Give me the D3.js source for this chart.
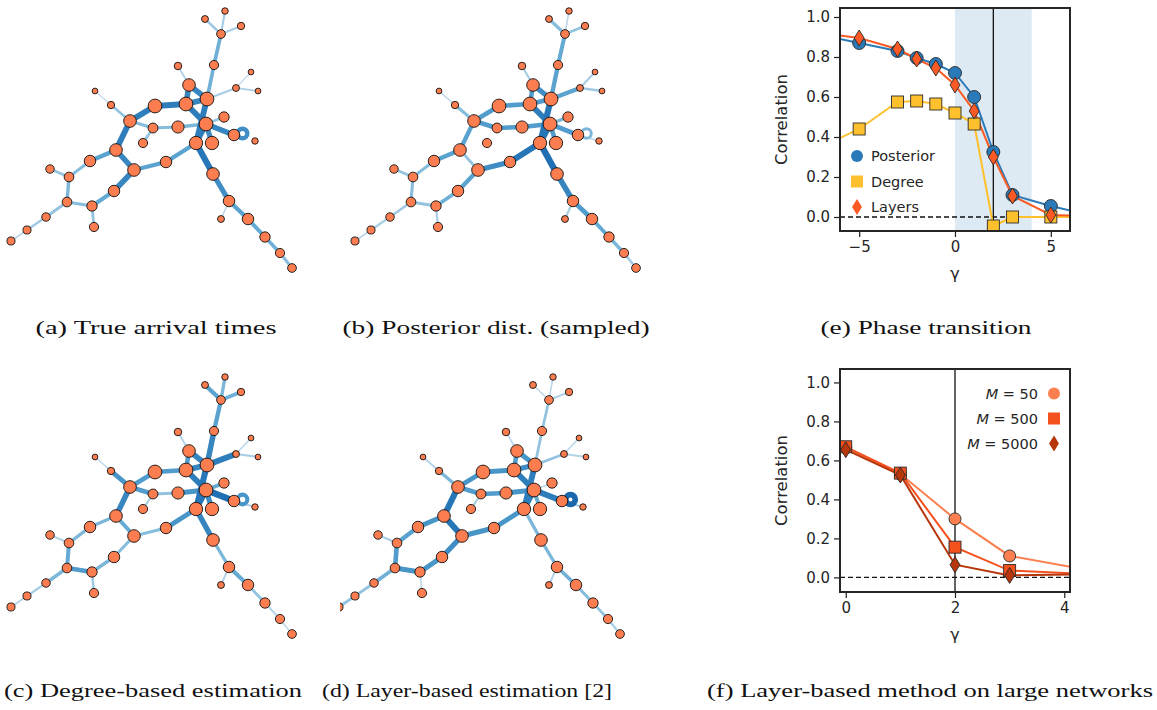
<!DOCTYPE html>
<html>
<head>
<meta charset="utf-8">
<title>Arrival times</title>
<style>
  body { margin: 0; background: #fff; }
  svg { display: block; }
  .tick text { font: 15px "DejaVu Sans", sans-serif; fill: #262626; }
  .tick line { stroke: #262626; stroke-width: 1.25px; }
  .lab { font: 16.5px "DejaVu Sans", sans-serif; fill: #262626; }
  .leg { font: 14.5px "DejaVu Sans", sans-serif; fill: #262626; }
  .caption { font: 18px "Liberation Serif", serif; fill: #111; }
</style>
</head>
<body>
<script src="https://d3js.org/d3.v7.min.js"></script>
<script>
// network layout, same for panels a-d (coords in panel a pixels)
const nodeXY = [[225,11],[205,19],[241,26],[221,34],[214,65],[178,66],[251,72],[236,88],[258,91],[189,85],
  [207,99],[95,91],[111,105],[155,106],[186,104],[224,117],[130,121],[153,128],[178,127],[206,124],
  [234,135],[255,141],[143,143],[196,143],[212,143],[116,150],[90,161],[166,162],[50,169],[69,177],
  [134,170],[213,174],[114,191],[67,202],[92,206],[229,201],[221,219],[248,219],[46,217],[94,227],
  [265,237],[27,230],[280,253],[11,241],[292,268]];
const nodeR = [2.8,3,3.2,3.8,4,3.3,2.5,3,2.5,5.5,
  6,2.5,3.2,6,6,4.5,5.5,4.3,5.3,6,
  5,2.8,4,5.8,5.8,5.5,5,5,3.7,4.2,
  5.5,5.5,5,4.2,4.5,5,3,5,3.7,4,
  4.5,3.5,4,3.5,3.8];
const edges = [[0,3],[1,3],[2,3],[3,4],[4,10],[10,23],[5,9],[7,10],[6,7],[7,8],
  [9,10],[9,14],[10,14],[13,14],[13,16],[11,12],[12,16],[16,17],[17,18],[18,19],
  [17,22],[15,19],[19,20],[14,19],[19,23],[19,24],[23,27],[27,30],[16,25],[25,26],
  [25,30],[26,29],[30,32],[32,34],[28,29],[29,33],[33,34],[33,38],[34,39],[38,41],
  [41,43],[23,31],[31,35],[35,36],[35,37],[37,40],[40,42],[42,44],[20,21]];
const strengthA = [0.2,0.25,0.2,0.45,0.45,0.8,0.15,0.2,0.05,0.15,
  0.75,0.75,0.75,0.8,0.8,0.05,0.3,0.35,0.35,0.4,
  0.3,0.3,0.75,0.8,0.8,0.7,0.55,0.55,0.8,0.55,
  0.75,0.35,0.75,0.5,0.3,0.4,0.35,0.3,0.3,0.25,
  0.1,0.85,0.7,0.1,0.55,0.5,0.45,0.35,0];
const strengthB = [0.1,0.35,0.3,0.5,0.55,0.85,0.2,0.55,0.2,0.25,
  0.7,0.6,0.6,0.6,0.6,0.1,0.35,0.6,0.6,0.6,
  0,0.4,0.6,0.8,0.85,0.6,0.85,0.7,0.55,0.55,
  0.3,0.35,0.55,0.45,0.3,0.35,0.3,0.25,0.2,0.2,
  0.1,0.9,0.75,0.2,0.6,0.5,0.4,0.25,0.1];
const strengthC = [0.4,0.55,0.45,0.55,0.75,0.85,0.15,0.8,0.1,0.2,
  0.75,0.6,0.75,0.6,0.6,0.1,0.65,0.6,0.3,0.65,
  0.2,0.5,0.9,0.8,0.85,0.7,0.65,0.35,0.75,0.4,
  0.5,0.4,0.35,0.4,0.15,0.5,0.6,0.4,0.25,0.2,
  0.15,0.75,0.4,0.15,0.5,0.3,0.15,0.1,0.15];
const strengthD = [0.1,0.1,0.15,0.3,0.3,0.8,0.1,0.3,0.1,0.15,
  0.65,0.6,0.7,0.65,0.65,0.15,0.4,0.6,0.6,0.65,
  0.2,0.1,0.8,0.8,0.8,0.5,0.65,0.65,0.85,0.65,
  0.85,0.55,0.7,0.65,0.2,0.6,0.65,0.45,0.1,0.3,
  0.3,0.4,0.4,0.15,0.45,0.35,0.3,0.2,0.2];
const loopStrength = [0.7, 0.4, 0.65, 0.95];
const panelOffset = [[0,0],[344,0],[0,366],[328,366]];

// (e) phase transition
const gammaE = [-7,-5,-3,-2,-1,0,1,2,3,5,7];
const posterior = [0.91,0.87,0.83,0.795,0.765,0.72,0.60,0.325,0.11,0.055,0.01];
const degree = [0.35,0.44,0.575,0.58,0.565,0.52,0.465,-0.045,0.0,0.0,0.0];
const layers = [0.92,0.895,0.84,0.79,0.745,0.66,0.53,0.30,0.105,0.01,0.005];

// (f) large networks
const gammaF = [0,1,2,3,5];
const m50 = [0.665,0.53,0.30,0.11,0.01];
const m500 = [0.67,0.535,0.155,0.035,0.01];
const m5000 = [0.655,0.525,0.065,0.01,0.018];

const captionsTop = ["(a) True arrival times","(b) Posterior dist. (sampled)","(e) Phase transition"];
const captionsBottom = ["(c) Degree-based estimation","(d) Layer-based estimation [2]","(f) Layer-based method on large networks"];

const svg = d3.select("body").append("svg").attr("width", 1157).attr("height", 710);
svg.append("rect").attr("width", 1157).attr("height", 710).attr("fill", "#fff");
const defs = svg.append("defs");

const edgeColor = s => d3.interpolateBlues(0.22 + 0.6 * s);
const edgeWidth = s => 1 + 6 * s;
const rScale = 1.15;

function drawNet(k, strengths) {
  const [ox, oy] = panelOffset[k];
  const x = d3.scaleLinear().domain([0, 1]).range([ox, ox + 1]);
  const y = d3.scaleLinear().domain([0, 1]).range([oy, oy + 1]);
  const id = "clipnet" + k;
  defs.append("clipPath").attr("id", id).append("rect")
    .attr("x", ox + (k === 3 ? 12 : 0)).attr("y", oy).attr("width", 310).attr("height", 290);
  const g = svg.append("g").attr("clip-path", `url(#${id})`);
  const es = edges.map((e, i) => ({ a: e[0], b: e[1], s: strengths[i] }))
    .filter(e => e.s > 0).sort((p, q) => p.s - q.s);
  g.selectAll("line").data(es).join("line")
    .attr("x1", d => x(nodeXY[d.a][0])).attr("y1", d => y(nodeXY[d.a][1]))
    .attr("x2", d => x(nodeXY[d.b][0])).attr("y2", d => y(nodeXY[d.b][1]))
    .attr("stroke", d => edgeColor(d.s)).attr("stroke-width", d => edgeWidth(d.s));
  // self loop on node 20
  const ls = loopStrength[k];
  g.append("circle")
    .attr("cx", x(nodeXY[20][0] + 8.5)).attr("cy", y(nodeXY[20][1] - 1.5))
    .attr("r", 4.8).attr("fill", "none")
    .attr("stroke", edgeColor(ls)).attr("stroke-width", edgeWidth(ls) * 0.85);
  g.selectAll("circle.node").data(nodeXY).join("circle").attr("class", "node")
    .attr("cx", d => x(d[0])).attr("cy", d => y(d[1]))
    .attr("r", (d, i) => nodeR[i] * rScale)
    .attr("fill", "#fc7d50").attr("stroke", "#111").attr("stroke-width", 0.9);
}
[strengthA, strengthB, strengthC, strengthD].forEach((s, k) => drawNet(k, s));

function diamondPath(hw, hh) {
  return `M0,${-hh}L${hw},0L0,${hh}L${-hw},0Z`;
}
function marker(sel, type, size) {
  if (type === "circle") return sel.append("circle").attr("r", size);
  if (type === "square") return sel.append("rect").attr("x", -size).attr("y", -size).attr("width", 2 * size).attr("height", 2 * size);
  return sel.append("path").attr("d", diamondPath(size * 0.62, size));
}

function drawPlot(cfg) {
  const { left, right, top, bottom, xDomain, yDomain, xTicks, id } = cfg;
  const x = d3.scaleLinear().domain(xDomain).range([left, right]);
  const y = d3.scaleLinear().domain(yDomain).range([bottom, top]);
  defs.append("clipPath").attr("id", id).append("rect")
    .attr("x", left).attr("y", top).attr("width", right - left).attr("height", bottom - top);
  const g = svg.append("g").attr("clip-path", `url(#${id})`);
  if (cfg.shade) {
    g.append("rect").attr("x", x(cfg.shade[0])).attr("y", top)
      .attr("width", x(cfg.shade[1]) - x(cfg.shade[0])).attr("height", bottom - top)
      .attr("fill", "#dde9f3");
  }
  g.append("line").attr("x1", x(2)).attr("x2", x(2)).attr("y1", top).attr("y2", bottom)
    .attr("stroke", "#111").attr("stroke-width", 1.3);
  g.append("line").attr("x1", left).attr("x2", right).attr("y1", y(0)).attr("y2", y(0))
    .attr("stroke", "#111").attr("stroke-width", 1.3).attr("stroke-dasharray", "5,3");
  const line = d3.line().x(d => x(d[0])).y(d => y(d[1]));
  cfg.series.forEach(s => {
    const pts = cfg.xs.map((v, i) => [v, s.values[i]]);
    g.append("path").datum(pts).attr("d", line).attr("fill", "none")
      .attr("stroke", s.color).attr("stroke-width", 2);
  });
  cfg.series.forEach(s => {
    const pts = cfg.xs.map((v, i) => [v, s.values[i]]);
    pts.forEach(p => {
      const m = g.append("g").attr("transform", `translate(${x(p[0])},${y(p[1])})`);
      marker(m, s.shape, s.size).attr("fill", s.color).attr("stroke", "#2a2a2a").attr("stroke-width", 0.9);
    });
  });
  svg.append("rect").attr("x", left).attr("y", top).attr("width", right - left).attr("height", bottom - top)
    .attr("fill", "none").attr("stroke", "#262626").attr("stroke-width", 2);
  const ax = svg.append("g").attr("transform", `translate(0,${bottom + 1})`)
    .call(d3.axisBottom(x).tickValues(xTicks).tickFormat(d3.format("d")).tickSize(5).tickPadding(4));
  ax.select(".domain").remove();
  const ay = svg.append("g").attr("transform", `translate(${left - 1},0)`)
    .call(d3.axisLeft(y).tickValues([0, 0.2, 0.4, 0.6, 0.8, 1.0]).tickFormat(d3.format(".1f")).tickSize(5).tickPadding(4));
  ay.select(".domain").remove();
  svg.append("text").attr("class", "lab")
    .attr("transform", `translate(${left - 59},${(top + bottom) / 2}) rotate(-90)`)
    .attr("text-anchor", "middle").attr("dominant-baseline", "central").text("Correlation");
  svg.append("text").attr("class", "lab").attr("x", (left + right) / 2).attr("y", bottom + 48)
    .attr("text-anchor", "middle").attr("font-style", "italic").text("γ");
  return { x, y };
}

drawPlot({
  id: "clipE", left: 840, right: 1070, top: 8, bottom: 231,
  xDomain: [-6, 6], yDomain: [-0.07, 1.045], xTicks: [-5, 0, 5], shade: [0, 4],
  xs: gammaE,
  series: [
    { values: posterior, color: "#2a7ab9", shape: "circle", size: 6.5 },
    { values: degree, color: "#fec12d", shape: "square", size: 6 },
    { values: layers, color: "#fc5a24", shape: "diamond", size: 8 }
  ]
});
const legE = [["Posterior", "#2a7ab9", "circle"], ["Degree", "#fec12d", "square"], ["Layers", "#fc5a24", "diamond"]];
legE.forEach((d, i) => {
  const cy = 156 + i * 25.5;
  const m = svg.append("g").attr("transform", `translate(857,${cy})`);
  marker(m, d[2], d[2] === "diamond" ? 8 : 6).attr("fill", d[1]);
  svg.append("text").attr("class", "leg").attr("x", 871).attr("y", cy)
    .attr("dominant-baseline", "central").text(d[0]);
});

drawPlot({
  id: "clipF", left: 840, right: 1070, top: 369, bottom: 592,
  xDomain: [-0.105, 4.105], yDomain: [-0.075, 1.069], xTicks: [0, 2, 4],
  xs: gammaF,
  series: [
    { values: m50, color: "#fc7f50", shape: "circle", size: 6 },
    { values: m500, color: "#f4511e", shape: "square", size: 6 },
    { values: m5000, color: "#b8360b", shape: "diamond", size: 8 }
  ]
});
const legF = [["50", "#fc7f50", "circle"], ["500", "#f4511e", "square"], ["5000", "#b8360b", "diamond"]];
legF.forEach((d, i) => {
  const cy = 393.5 + i * 25;
  const m = svg.append("g").attr("transform", `translate(1054,${cy})`);
  marker(m, d[2], d[2] === "diamond" ? 8 : 6).attr("fill", d[1]);
  const t = svg.append("text").attr("class", "leg").attr("x", 1038).attr("y", cy)
    .attr("text-anchor", "end").attr("dominant-baseline", "central");
  t.append("tspan").attr("font-style", "italic").text("M");
  t.append("tspan").text(" = " + d[0]);
});

// captions
const capTop = [[156, 241], [496, 307], [926, 211]];
const capBottom = [[153, 298], [467, 290], [930, 446]];
captionsTop.forEach((c, i) => {
  svg.append("text").attr("class", "caption").attr("x", capTop[i][0]).attr("y", 334)
    .attr("text-anchor", "middle").attr("textLength", capTop[i][1]).attr("lengthAdjust", "spacingAndGlyphs").text(c);
});
captionsBottom.forEach((c, i) => {
  svg.append("text").attr("class", "caption").attr("x", capBottom[i][0]).attr("y", 697)
    .attr("text-anchor", "middle").attr("textLength", capBottom[i][1]).attr("lengthAdjust", "spacingAndGlyphs").text(c);
});
</script>
</body>
</html>
